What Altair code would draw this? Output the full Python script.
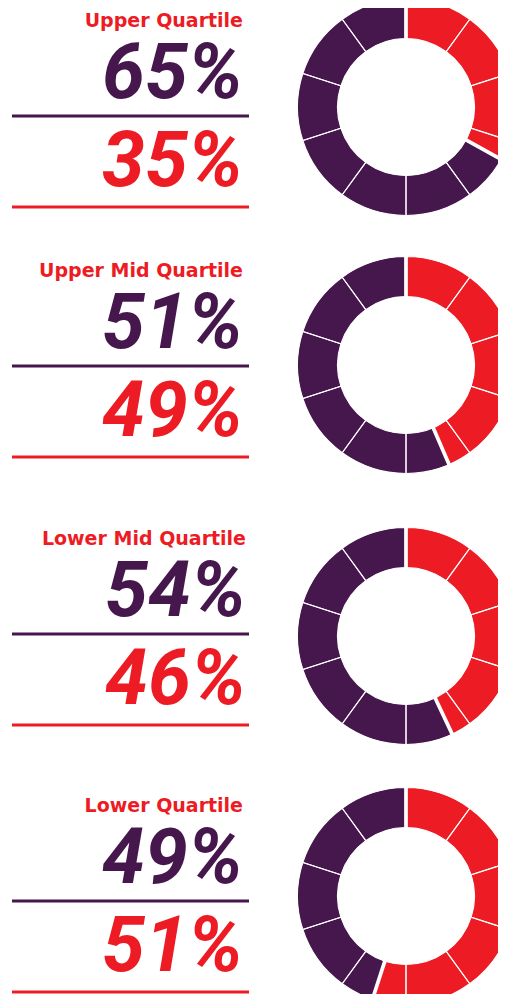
import math
import altair as alt
import pandas as pd

# ---- data ----
quartiles = ["Upper Quartile", "Upper Mid Quartile", "Lower Mid Quartile", "Lower Quartile"]
male_pct = [65, 51, 54, 49]
female_pct = [35, 49, 46, 51]
# share of each donut drawn in red
donut_red_share = [33, 43.5, 43, 55]
segment_step = 10  # donut ring is divided into 10% segments

# ---- layout / style ----
PURPLE = "#46174C"
RED = "#ED1C24"
W, H = 490, 986
M = 8  # page margin
text_top = [0, 250, 518, 785]      # page y of each text block
text_dx = [0, 0, 3, 0]             # small horizontal shift of each text block
donut_cy = [107, 365, 636, 896]    # page y of each donut centre
donut_cx = 406
R_OUT, R_IN = 108.5, 68.5
TITLE_X = 243 - M
NUM_X = 243 - M
RULE_X0, RULE_X1 = 12 - M, 249 - M

xs = alt.Scale(domain=[0, W], range=[0, W], nice=False, zero=False)
ys = alt.Scale(domain=[0, H], range=[0, H], nice=False, zero=False)
ts = alt.Scale(domain=[0, 100], range=[0, 2 * math.pi])

rows = []
for i, q in enumerate(quartiles):
    t = text_top[i] - M
    d = text_dx[i]
    rows.append(dict(q=q, male=f"{male_pct[i]}%", female=f"{female_pct[i]}%",
                     tx=TITLE_X + d, nx=NUM_X + d, rx0=RULE_X0, rx1=RULE_X1,
                     ty=t + 27, my=t + 98, l1=t + 116, fy=t + 186, l2=t + 207))
text_df = pd.DataFrame(rows)

big = []
seg = []
for i, q in enumerate(quartiles):
    cx, cy = donut_cx - M, donut_cy[i] - M
    f = donut_red_share[i]
    big.append(dict(q=q, sex="Women", start=0, end=f, cx=cx, cy=cy))
    big.append(dict(q=q, sex="Men", start=f, end=100, cx=cx, cy=cy))
    for k in range(0, 100, segment_step):
        seg.append(dict(q=q, start=k, end=k + segment_step, cx=cx, cy=cy))
big_df = pd.DataFrame(big)
seg_df = pd.DataFrame(seg)


def X(f):
    return alt.X(f, scale=xs, axis=None)


def Y(f):
    return alt.Y(f, scale=ys, axis=None)


arcs = alt.Chart(big_df).mark_arc(radius=R_OUT, radius2=R_IN, padAngle=0.029).encode(
    x=X("cx:Q"), y=Y("cy:Q"),
    theta=alt.Theta("start:Q", scale=ts, stack=None), theta2="end:Q",
    color=alt.Color("sex:N", scale=alt.Scale(domain=["Women", "Men"], range=[RED, PURPLE]), legend=None),
)
seps = alt.Chart(seg_df).mark_arc(radius=R_OUT, radius2=R_IN, fillOpacity=0,
                                  stroke="white", strokeWidth=1.1).encode(
    x=X("cx:Q"), y=Y("cy:Q"),
    theta=alt.Theta("start:Q", scale=ts, stack=None), theta2="end:Q",
)

base = alt.Chart(text_df)
titles = base.mark_text(align="right", baseline="alphabetic", font="DejaVu Sans",
                        fontWeight="bold", fontSize=19, color=RED).encode(
    x=X("tx:Q"), y=Y("ty:Q"), text="q:N")
males = base.mark_text(align="right", baseline="alphabetic", font="Roboto",
                       fontWeight="bold", fontStyle="italic", fontSize=77, color=PURPLE).encode(
    x=X("nx:Q"), y=Y("my:Q"), text="male:N")
females = base.mark_text(align="right", baseline="alphabetic", font="Roboto",
                         fontWeight="bold", fontStyle="italic", fontSize=77, color=RED).encode(
    x=X("nx:Q"), y=Y("fy:Q"), text="female:N")
rule1 = base.mark_rule(color=PURPLE, strokeWidth=3).encode(
    x=X("rx0:Q"), x2="rx1:Q", y=Y("l1:Q"))
rule2 = base.mark_rule(color=RED, strokeWidth=3).encode(
    x=X("rx0:Q"), x2="rx1:Q", y=Y("l2:Q"))

chart = alt.layer(arcs, seps, titles, males, females, rule1, rule2).properties(
    width=W, height=H, autosize=alt.AutoSizeParams(type="none"), padding=0
).configure_view(stroke=None)

chart.save("out.html", embed_options={"renderer": "svg", "actions": False})
